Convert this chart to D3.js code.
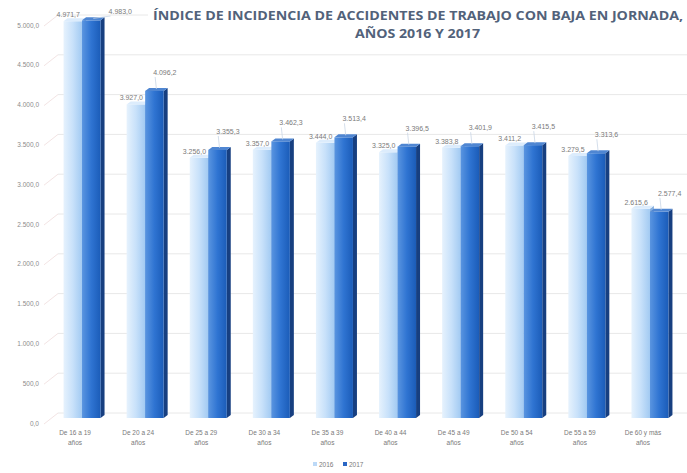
<!DOCTYPE html>
<html><head><meta charset="utf-8">
<script src="https://cdn.jsdelivr.net/npm/d3@7"></script>
<style>html,body{margin:0;padding:0;background:#fff;}svg{display:block;}</style>
</head><body>
<svg id="c" width="687" height="473"></svg>
<script>
const categories = ["De 16 a 19 años","De 20 a 24 años","De 25 a 29 años","De 30 a 34 años","De 35 a 39 años","De 40 a 44 años","De 45 a 49 años","De 50 a 54 años","De 55 a 59 años","De 60 y más años"];
const series = ["2016","2017"];
const values2016 = [4971.7, 3927.0, 3256.0, 3357.0, 3444.0, 3325.0, 3383.8, 3411.2, 3279.5, 2615.6];
const values2017 = [4983.0, 4096.2, 3355.3, 3462.3, 3513.4, 3396.5, 3401.9, 3415.5, 3313.6, 2577.4];
const yTicks = [0,500,1000,1500,2000,2500,3000,3500,4000,4500,5000];
const titleLines = ["ÍNDICE DE INCIDENCIA DE ACCIDENTES DE TRABAJO CON BAJA EN JORNADA,","AÑOS 2016 Y 2017"];

const svg = d3.select("#c");
const loc = d3.formatLocale({decimal:",", thousands:".", grouping:[3], currency:["","€"]});
const fmt = loc.format(",.1f");

const y = d3.scaleLinear().domain([0,5000]).range([423,25]);
const gridShift = 10, barShift = 6;
const yG = v => y(v) - gridShift;
const yB = v => y(v) - barShift;
const floorY = 418;
const x = d3.scaleBand().domain(categories).range([50.5,681.5]);
const barW = 18.5, depth = 4, rise = 3;

// gridlines
const grid = svg.append("g");
yTicks.forEach(t=>{
  grid.append("line").attr("x1",44).attr("y1",y(t)+1).attr("x2",58).attr("y2",yG(t))
    .attr("stroke","#f3e4e4").attr("stroke-width",1);
  grid.append("line").attr("x1",58).attr("x2",687).attr("y1",yG(t)).attr("y2",yG(t))
    .attr("stroke","#e8e8e8").attr("stroke-width",1);
});

// y axis labels
const yAxis = d3.axisLeft(y).tickValues(yTicks).tickFormat(d=>fmt(d)).tickSize(0).tickPadding(0);
const ga = svg.append("g").attr("transform","translate(39,0)").call(yAxis);
ga.select(".domain").remove();
ga.selectAll("text").attr("fill","#8c8c8c").style("font-family","Liberation Sans, Arial").style("font-size","6.5px");

// gradients
const defs = svg.append("defs");
function grad(id, stops){
  const g = defs.append("linearGradient").attr("id",id).attr("x1","0").attr("x2","1").attr("y1","0").attr("y2","0");
  stops.forEach(s=>g.append("stop").attr("offset",s[0]).attr("stop-color",s[1]));
}
grad("g16",[[0,"#e6f2fd"],[0.5,"#c8e1fa"],[1,"#a2caf2"]]);
grad("g17",[[0,"#5a95e0"],[0.5,"#2f74d2"],[1,"#1b5cb8"]]);
const styles = {
  "2016": {front:"url(#g16)", side:"#86afdf", top:"#dcecfc"},
  "2017": {front:"url(#g17)", side:"#173f80", top:"#4f86d2"}
};

const data = categories.map((c,i)=>({c, v:[values2016[i], values2017[i]]}));
const labFont = (g,s) => g.style("font-family","Liberation Sans, Arial").style("font-size",(s||6.5)+"px").attr("fill","#7a7a7a");

function drawBars(j){
  const g = svg.append("g");
  data.forEach(d=>{
    const cx = x(d.c) + x.bandwidth()/2;
    const v = d.v[j];
    const x0 = j===0 ? cx - barW : cx;
    const top = yB(v);
    const st = styles[series[j]];
    g.append("path").attr("d",`M${x0+barW},${top}L${x0+barW+depth},${top-rise}L${x0+barW+depth},${floorY-rise}L${x0+barW},${floorY}Z`).attr("fill",st.side);
    g.append("rect").attr("x",x0).attr("y",top).attr("width",barW).attr("height",floorY-top).attr("fill",st.front);
    g.append("path").attr("d",`M${x0},${top}L${x0+depth},${top-rise}L${x0+barW+depth},${top-rise}L${x0+barW},${top}Z`).attr("fill",st.top);
  });
}

// 2016 bars, then its labels (partly hidden by 2017 bars, as in the original)
drawBars(0);
const lab16 = labFont(svg.append("g"), 7);
data.forEach(d=>{
  const cx = x(d.c) + x.bandwidth()/2;
  const v0 = d.v[0];
  lab16.append("text").attr("x",cx - barW - 7).attr("y",yB(v0)-4).attr("text-anchor","start").text(fmt(v0));
});
drawBars(1);

// 2017 labels with leader lines
const lab17 = labFont(svg.append("g"), 7);
data.forEach(d=>{
  const cx = x(d.c) + x.bandwidth()/2;
  const v1 = d.v[1];
  const top = yB(v1);
  let lx = cx + 8, ly = top - 16;
  if (ly < 14) { ly = 14; lx = cx + barW + 8; }
  const bx = cx + barW/2 + 2, by = top - 2;
  svg.append("path").attr("d",`M${bx},${by}L${lx+2},${ly+2}`).attr("fill","none").attr("stroke","#c9d6e6").attr("stroke-width",0.8);
  lab17.append("text").attr("x",lx).attr("y",ly).attr("text-anchor","start").text(fmt(v1));
});

// category labels
const cl = labFont(svg.append("g"));
categories.forEach(c=>{
  const cx = x(c) + x.bandwidth()/2 - 7;
  const idx = c.lastIndexOf(" ");
  const t = cl.append("text").attr("text-anchor","middle");
  t.append("tspan").attr("x",cx).attr("y",435).text(c.slice(0,idx));
  t.append("tspan").attr("x",cx).attr("y",445).text(c.slice(idx+1));
});

// title
svg.append("rect").attr("x",148).attr("y",0).attr("width",539).attr("height",44).attr("fill","#fff");
const tt = svg.append("g").style("font-family","Open Sans, Liberation Sans").style("font-weight","bold").style("font-size","12px").attr("fill","#52627a");
tt.append("text").attr("x",153).attr("y",20).attr("textLength",530).attr("lengthAdjust","spacingAndGlyphs").text(titleLines[0]);
tt.append("text").attr("x",355).attr("y",38).attr("textLength",125).attr("lengthAdjust","spacingAndGlyphs").text(titleLines[1]);

// legend
const lg = labFont(svg.append("g"));
const legX = [313, 343];
series.forEach((s,j)=>{
  lg.append("rect").attr("x",legX[j]).attr("y",462).attr("width",4).attr("height",4).attr("fill", j===0?"#bcd9f7":"#2a66c4");
  lg.append("text").attr("x",legX[j]+6).attr("y",466.5).text(s);
});
</script>
</body></html>
